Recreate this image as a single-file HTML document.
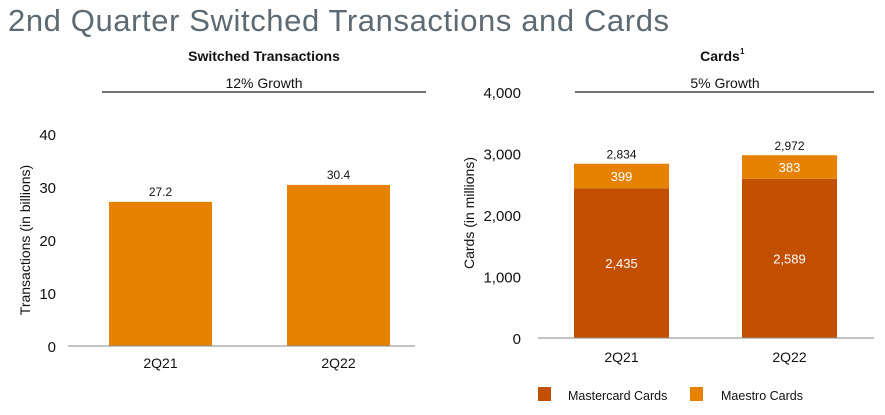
<!DOCTYPE html>
<html><head><meta charset="utf-8"><style>
body{margin:0;background:#fff;width:885px;height:410px;overflow:hidden;font-family:"Liberation Sans",sans-serif}
</style></head><body>
<svg width="885" height="410" font-family="Liberation Sans, sans-serif">
<text x="8" y="31" font-size="31" fill="#5d6a74" letter-spacing="0.6">2nd Quarter Switched Transactions and Cards</text>
<g id="left"></g>
<g id="right"></g>
</svg>
<script>
const ns="http://www.w3.org/2000/svg";
const txCategories=["2Q21","2Q22"];
const txValues=[27.2,30.4];
const txTicks=[0,10,20,30,40];
const cardCategories=["2Q21","2Q22"];
const mastercardValues=[2435,2589];
const maestroValues=[399,383];
const cardTotals=[2834,2972];
const cardTicks=[0,1000,2000,3000,4000];
const ORANGE="#E68200",DARK="#C34F00";
function mk(p,tag,a,txt){const e=document.createElementNS(ns,tag);for(const k in a)e.setAttribute(k,a[k]);if(txt!==undefined)e.textContent=txt;p.appendChild(e);return e;}
const fmt=v=>v.toLocaleString("en-US");
// left
const L=document.getElementById("left");
const ly=v=>346-v*5.3;
const lx=i=>109+i*178;
let t=mk(L,"text",{x:264,y:61,"font-size":14,"font-weight":"bold","text-anchor":"middle",fill:"#111"},"Switched Transactions");

t=mk(L,"text",{x:264,y:88,"font-size":14,"text-anchor":"middle",fill:"#111"},"12% Growth");

t=mk(L,"line",{x1:102,x2:426,y1:92,y2:92,stroke:"#444","stroke-width":1.5});

txTicks.forEach(v=>{const e=mk(L,"text",{x:56,y:ly(v)+6,"font-size":15,"text-anchor":"end",fill:"#111"},v);
});
t=mk(L,"text",{transform:"translate(30,240) rotate(-90)","font-size":14,"text-anchor":"middle",fill:"#111"},"Transactions (in billions)");

txValues.forEach((v,i)=>{const b=mk(L,"rect",{x:lx(i),y:ly(v),width:103,height:ly(0)-ly(v),fill:ORANGE});

const l=mk(L,"text",{x:lx(i)+51.5,y:ly(v)-6,"font-size":12,"text-anchor":"middle",fill:"#111"},v.toFixed(1));

const c=mk(L,"text",{x:lx(i)+51.5,y:368,"font-size":14,"text-anchor":"middle",fill:"#111"},txCategories[i]);
});
t=mk(L,"line",{x1:68,x2:415,y1:346,y2:346,stroke:"#888","stroke-width":1});

// right
const R=document.getElementById("right");
const ry=v=>338-v*246/4000;
const rx=i=>574+i*168;
t=mk(R,"text",{x:720,y:61,"font-size":14,"font-weight":"bold","text-anchor":"middle",fill:"#111"},"Cards");

t=mk(R,"text",{x:740,y:54,"font-size":8,"font-weight":"bold",fill:"#111"},"1");

t=mk(R,"text",{x:725,y:88,"font-size":14,"text-anchor":"middle",fill:"#111"},"5% Growth");

t=mk(R,"line",{x1:575,x2:874,y1:92,y2:92,stroke:"#444","stroke-width":1.5});

cardTicks.forEach(v=>{const e=mk(R,"text",{x:521,y:ry(v)+6,"font-size":15,"text-anchor":"end",fill:"#111"},fmt(v));
});
t=mk(R,"text",{transform:"translate(474,213) rotate(-90)","font-size":14,"text-anchor":"middle",fill:"#111"},"Cards (in millions)");

cardCategories.forEach((c,i)=>{const m=mastercardValues[i],a=maestroValues[i],x=rx(i);
const b1=mk(R,"rect",{x:x,y:ry(m),width:95,height:ry(0)-ry(m),fill:DARK});

const b2=mk(R,"rect",{x:x,y:ry(m+a),width:95,height:ry(m)-ry(m+a),fill:ORANGE});

const l1=mk(R,"text",{x:x+47.5,y:(ry(m)+ry(0))/2+5,"font-size":13,"text-anchor":"middle",fill:"#fff"},fmt(m));

const l2=mk(R,"text",{x:x+47.5,y:(ry(m)+ry(m+a))/2+5,"font-size":13,"text-anchor":"middle",fill:"#fff"},fmt(a));

const l3=mk(R,"text",{x:x+47.5,y:ry(cardTotals[i])-5,"font-size":12,"text-anchor":"middle",fill:"#111"},fmt(cardTotals[i]));

const cl=mk(R,"text",{x:x+47.5,y:362,"font-size":14,"text-anchor":"middle",fill:"#111"},c);
});
t=mk(R,"line",{x1:538,x2:874,y1:338,y2:338,stroke:"#888","stroke-width":1});

[[538,568,DARK,"Mastercard Cards"],[690,721,ORANGE,"Maestro Cards"]].forEach(([sx,tx,col,lab])=>{
const s=mk(R,"rect",{x:sx,y:387,width:13,height:14,fill:col});

const e=mk(R,"text",{x:tx,y:400,"font-size":12.5,fill:"#111"},lab);
});
</script>
</body></html>
